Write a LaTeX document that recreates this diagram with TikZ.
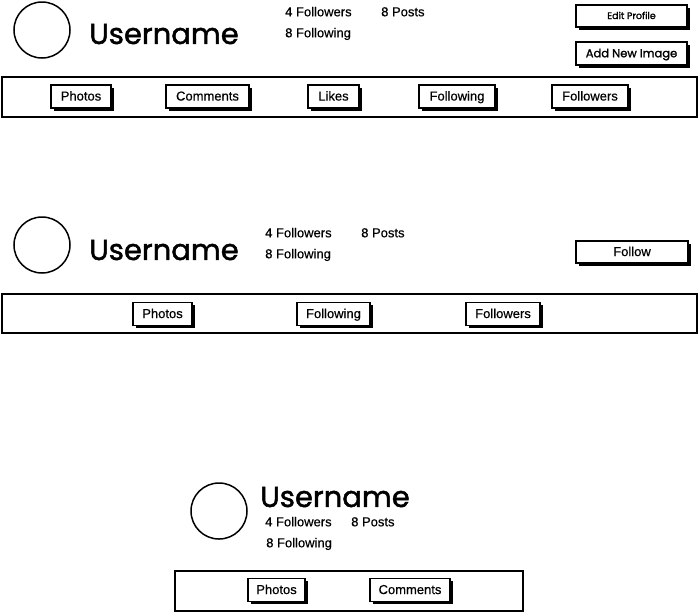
\documentclass[tikz,border=0pt]{standalone}
\usepackage{fontspec}
\setmainfont{Liberation Sans}[BoldFont={Liberation Sans}, BoldFeatures={FakeBold=0.5}]
\newfontfamily\rnd{Poppins}[BoldFont={Poppins}, BoldFeatures={FakeBold=1.6}]
\usetikzlibrary{shadows}
\begin{document}
\begin{tikzpicture}[x=1pt,y=-1pt,
  btn/.style={draw=black, line width=1.4pt, fill=white, rectangle, inner sep=0pt,
    minimum height=23pt, text height=10.8pt, text depth=2.7pt, font=\bfseries\fontsize{13}{15}\selectfont,
    drop shadow={shadow xshift=2.5pt, shadow yshift=-2.5pt, fill=black, opacity=1}},
  bar/.style={draw=black, line width=1.6pt},
  avatar/.style={draw=black, line width=1.5pt, circle, minimum size=56pt, inner sep=0pt},
  uname/.style={font=\rnd\bfseries\fontsize{29}{32}\selectfont, inner sep=0pt},
  stat/.style={font=\bfseries\fontsize{13}{15}\selectfont, anchor=west, inner sep=0pt,
    text height=9.3pt, text depth=2.7pt}
]
\useasboundingbox (0,0) rectangle (700,614);

% ---- Section 1 ----
\node[avatar] (av1) at (42,30) {};
\node[uname] (un1) at (164,34) {Username};
\node[stat] (fo1) at (285,13) {4 Followers};
\node[stat] (po1) at (381,13) {8 Posts};
\node[stat] (fi1) at (285,34) {8 Following};
\node[btn, minimum width=111pt, minimum height=22pt, text height=8pt, text depth=2pt, font=\rnd\bfseries\fontsize{9.5}{11}\selectfont] (edit) at (631.5,16) {Edit Profile};
\node[btn, minimum width=111pt, text height=10pt, text depth=2.5pt, font=\rnd\bfseries\fontsize{11.5}{14}\selectfont] (addimg) at (631.5,53.5) {Add New Image};
\draw[bar] (2,77) rectangle (697,117);
\node[btn, minimum width=60pt] (b1a) at (81,96.5) {Photos};
\node[btn, minimum width=83pt] (b1b) at (207.5,96.5) {Comments};
\node[btn, minimum width=51pt] (b1c) at (333.5,96.5) {Likes};
\node[btn, minimum width=76pt] (b1d) at (457,96.5) {Following};
\node[btn, minimum width=76pt] (b1e) at (590,96.5) {Followers};

% ---- Section 2 ----
\node[avatar] (av2) at (42,245) {};
\node[uname] (un2) at (164,250) {Username};
\node[stat] (fo2) at (265,234) {4 Followers};
\node[stat] (po2) at (361,234) {8 Posts};
\node[stat] (fi2) at (265,255) {8 Following};
\node[btn, minimum width=112pt, minimum height=22pt] (follow) at (632,252) {Follow};
\draw[bar] (2,294) rectangle (697,333);
\node[btn, minimum width=59pt] (b2a) at (162.5,314) {Photos};
\node[btn, minimum width=73pt] (b2b) at (333.5,314) {Following};
\node[btn, minimum width=74pt] (b2c) at (503,314) {Followers};

% ---- Section 3 ----
\node[avatar] (av3) at (219,511) {};
\node[uname] (un3) at (335,497) {Username};
\node[stat] (fo3) at (265,523) {4 Followers};
\node[stat] (po3) at (351,523) {8 Posts};
\node[stat] (fi3) at (266,544) {8 Following};
\draw[bar] (175,571) rectangle (523,611);
\node[btn, minimum width=57pt] (b3a) at (276.5,590) {Photos};
\node[btn, minimum width=80pt] (b3b) at (410,590) {Comments};
\end{tikzpicture}
\end{document}
